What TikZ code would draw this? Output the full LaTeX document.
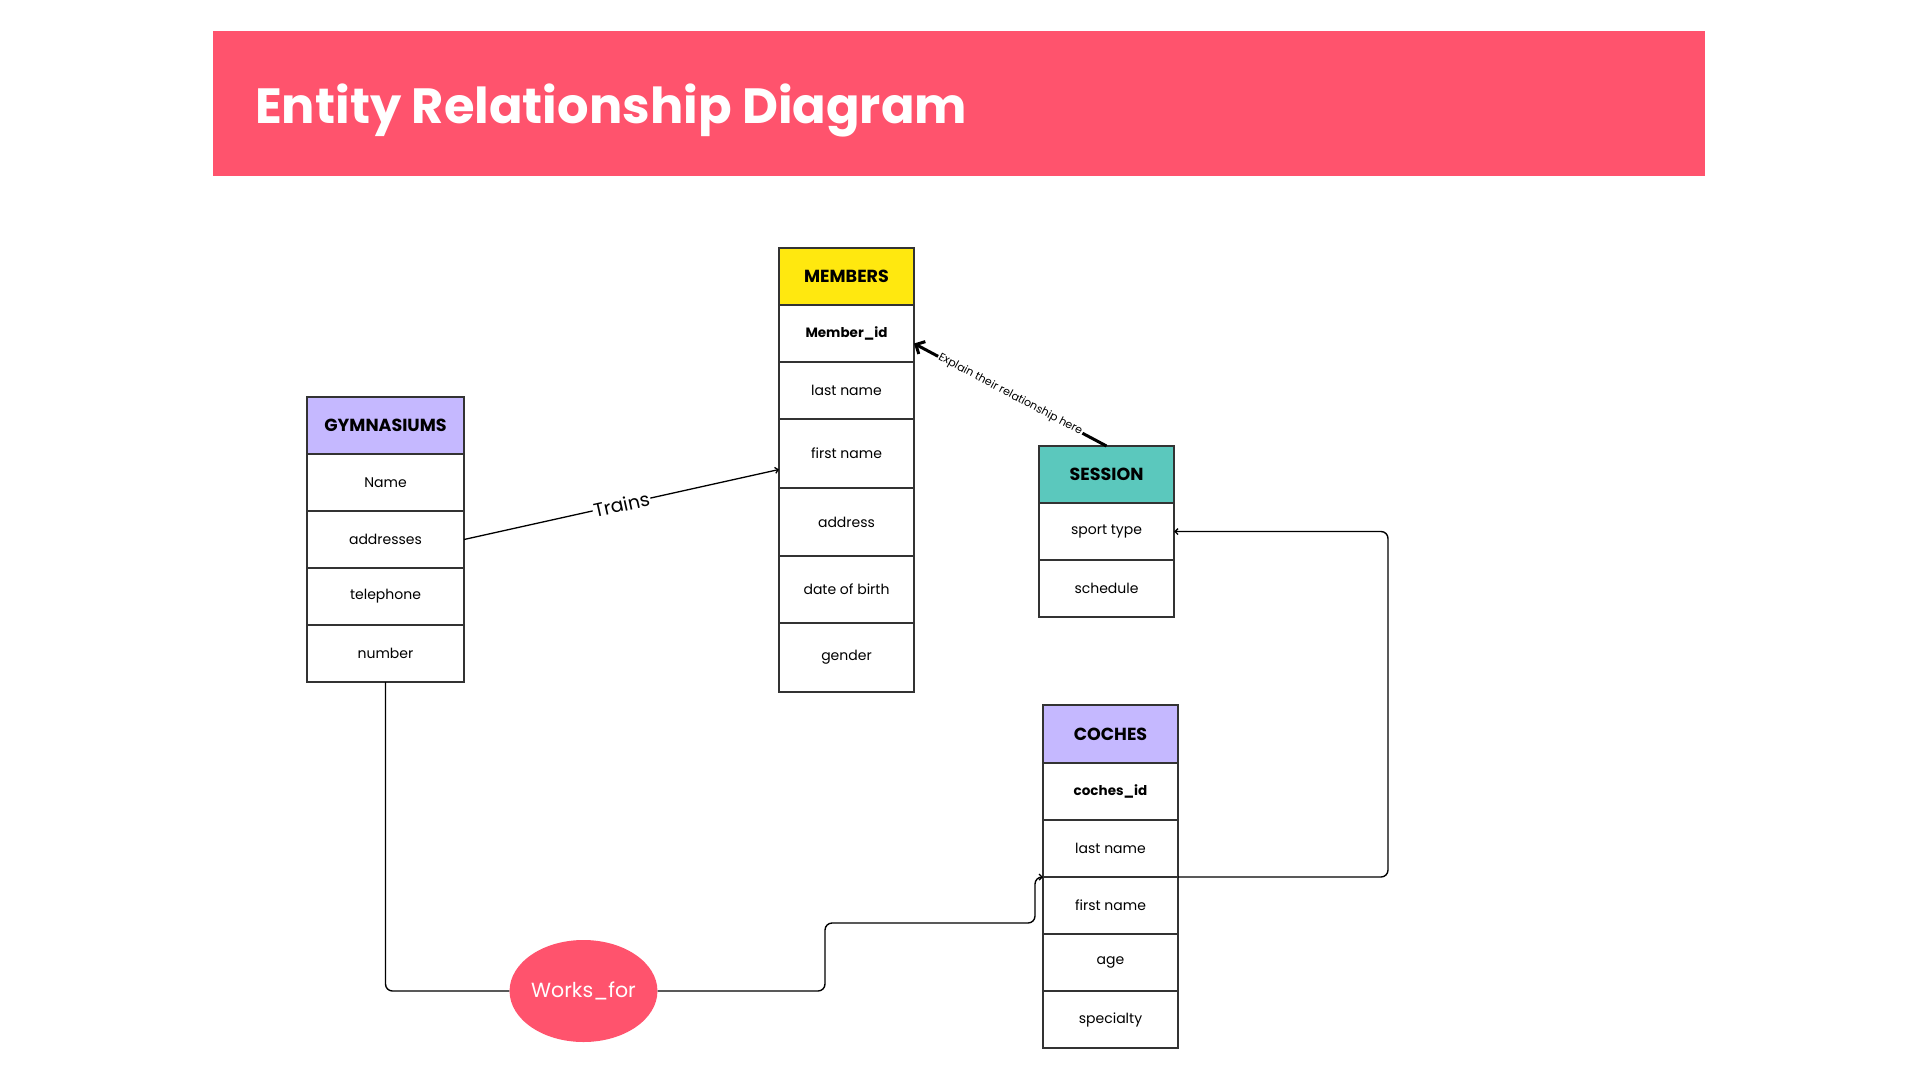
\documentclass[tikz,border=0pt]{standalone}
\usepackage{fontspec}
\setmainfont{Poppins}
\usetikzlibrary{positioning,shapes.geometric,arrows.meta}
\definecolor{rojo}{HTML}{FF536D}
\definecolor{amarillo}{HTML}{FFE80F}
\definecolor{lila}{HTML}{C5B8FF}
\definecolor{turquesa}{HTML}{5BC8BD}
\definecolor{borde}{HTML}{333333}

\begin{document}
\begin{tikzpicture}[x=1pt, y=-1pt,
  campo/.style={draw=borde, line width=1.5pt, fill=white, minimum width=135pt,
    minimum height=57pt, inner sep=0pt, outer sep=0pt, font=\fontsize{14}{17}\selectfont},
  cabecera/.style={campo, font=\fontsize{17.5}{20}\selectfont\bfseries},
  clave/.style={campo, font=\fontsize{13.5}{16}\selectfont\bfseries},
  conexion/.style={draw=black, line width=1.4pt, rounded corners=7pt},
  punta/.style={-{Straight Barb[length=3pt,width=6pt]}}]
  \useasboundingbox (0,0) rectangle (1920,1080);

  % Titulo
  \node[fill=rojo, anchor=north west, minimum width=1492pt, minimum height=145pt, inner sep=0pt] (banner) at (213,31) {};
  \node[anchor=base west, text=white, inner sep=0pt, font=\fontsize{49.5}{56}\selectfont\bfseries] (titulo) at (255,123) {Entity Relationship Diagram};

  % Nodos
  \node[cabecera, fill=lila, minimum width=157pt] (gym) at (385.5,425.5) {GYMNASIUMS};
  \node[campo, minimum width=157pt, below=0pt of gym] (gymname) {Name};
  \node[campo, minimum width=157pt, below=0pt of gymname] (gymaddr) {addresses};
  \node[campo, minimum width=157pt, below=0pt of gymaddr] (gymtel) {telephone};
  \node[campo, minimum width=157pt, below=0pt of gymtel] (gymnum) {number};

  \node[cabecera, fill=amarillo] (members) at (846.5,276.5) {MEMBERS};
  \node[clave, below=0pt of members] (memid) {Member\_id};
  \node[campo, below=0pt of memid] (memlast) {last name};
  \node[campo, minimum height=69pt, below=0pt of memlast] (memfirst) {first name};
  \node[campo, minimum height=68pt, below=0pt of memfirst] (memaddr) {address};
  \node[campo, minimum height=67pt, below=0pt of memaddr] (membirth) {date of birth};
  \node[campo, minimum height=69pt, below=0pt of membirth] (memgender) {gender};

  \node[cabecera, fill=turquesa] (session) at (1106.5,474.5) {SESSION};
  \node[campo, below=0pt of session] (sesport) {sport type};
  \node[campo, below=0pt of sesport] (sesched) {schedule};

  \node[cabecera, fill=lila, minimum height=58pt] (coches) at (1110.5,734) {COCHES};
  \node[clave, below=0pt of coches] (cochid) {coches\_id};
  \node[campo, below=0pt of cochid] (cochlast) {last name};
  \node[campo, below=0pt of cochlast] (cochfirst) {first name};
  \node[campo, below=0pt of cochfirst] (cochage) {age};
  \node[campo, below=0pt of cochage] (cochspec) {specialty};

  \node[ellipse, fill=rojo, text=white, minimum width=147pt, minimum height=102pt, inner sep=0pt,
    font=\fontsize{20.5}{24}\selectfont] (worksfor) at (583.5,991) {Works\_for};

  % Conexiones
  \draw[line width=1.3pt, punta] (gymaddr.east) -- node[sloped, fill=white, inner sep=1pt,
    font=\fontsize{19}{22}\selectfont] {Trains} ([yshift=-16pt]memfirst.west);
  \draw[line width=3pt, -{Straight Barb[length=7pt,width=14pt]}] (session.north) -- node[sloped,
    fill=white, inner sep=1pt, font=\fontsize{11}{13}\selectfont] {Explain their relationship here} ([yshift=-10pt]memid.east);
  \draw[conexion] (gymnum.south) |- (worksfor.west);
  \draw[conexion, punta] (worksfor.east) -| (825,923) -| (1035,877) -- (cochlast.south west);
  \draw[conexion, punta] (cochlast.south east) -- ++(210,0) |- (sesport.east);
\end{tikzpicture}
\end{document}
